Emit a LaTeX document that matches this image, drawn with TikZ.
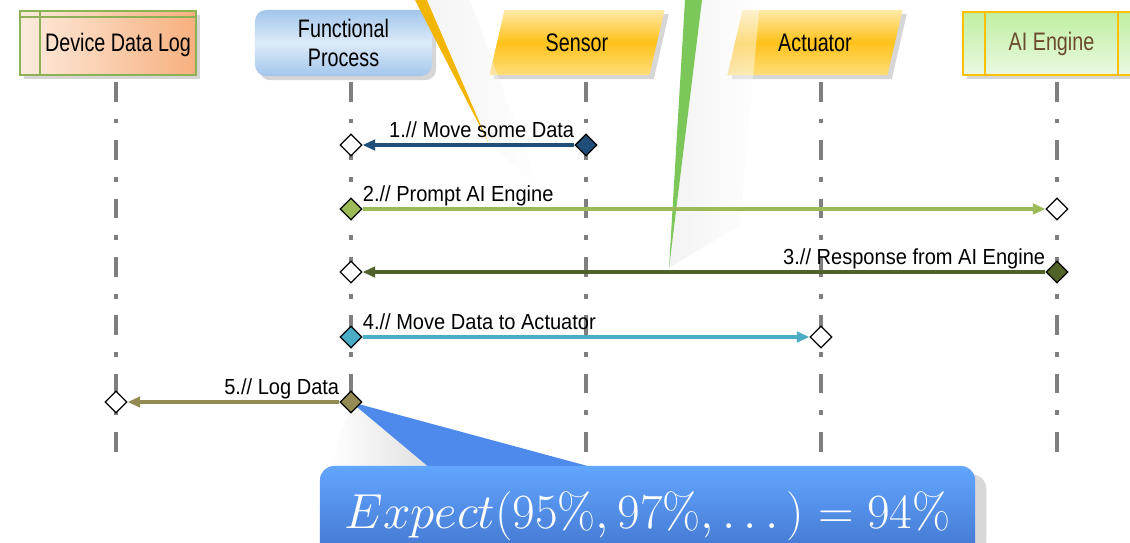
\RequirePackage{fix-cm}
\documentclass[tikz,border=0pt]{standalone}
\usepackage[no-math]{fontspec}
\setmainfont{Liberation Sans}
\newfontfamily\headfont{Liberation Sans}[FakeStretch=0.78]
\newfontfamily\msgfont{Liberation Sans}[FakeStretch=0.92]
\usepackage{tikz}
\usetikzlibrary{calc}
\usetikzlibrary{arrows.meta,shapes.geometric,shadows,positioning}

\definecolor{logLight}{HTML}{FDEBDD}
\definecolor{logDark}{HTML}{F7B07E}
\definecolor{logLine}{HTML}{8DB255}
\definecolor{procEdge}{HTML}{A3C6EB}
\definecolor{procMid}{HTML}{DCEBF9}
\definecolor{devTop}{HTML}{FFE9A6}
\definecolor{devMid}{HTML}{FFC21A}
\definecolor{devBot}{HTML}{FFDD7A}
\definecolor{aiTop}{HTML}{BFEFA0}
\definecolor{aiBot}{HTML}{EBF9E2}
\definecolor{aiLine}{HTML}{FFC000}
\definecolor{aiText}{HTML}{6B4A2E}
\definecolor{lifeGray}{HTML}{7F7F7F}
\definecolor{msgA}{HTML}{1F4E79}
\definecolor{msgB}{HTML}{9BBB59}
\definecolor{msgC}{HTML}{4F6228}
\definecolor{msgD}{HTML}{4BACC6}
\definecolor{msgE}{HTML}{948A54}
\definecolor{callTop}{HTML}{62A6FF}
\definecolor{callBot}{HTML}{3F70C9}
\definecolor{callMid}{HTML}{4D8AEC}
\definecolor{ptrYellow}{HTML}{F2B600}
\definecolor{ptrGreen}{HTML}{7CC75A}

\begin{document}
\begin{tikzpicture}[x=0.025cm, y=-0.025cm,
			header/.style  = {font=\headfont\fontsize{18}{21}\selectfont, inner sep=0pt, align=center},
			hshadow/.style = {drop shadow={opacity=0.4, fill=gray!80, shadow xshift=3pt, shadow yshift=-3pt}},
			logbox/.style  = {header, rectangle, hshadow, draw=logLine, line width=1.2pt, left color=logLight, right color=logDark, minimum width=4.4cm, minimum height=1.6cm},
			procbox/.style = {header, rectangle, hshadow, rounded corners=8pt, top color=procEdge, bottom color=procEdge, middle color=procMid, minimum width=4.425cm, minimum height=1.65cm},
			devshape/.style = {hshadow, top color=devTop, bottom color=devBot, middle color=devMid},
			aibox/.style   = {header, rectangle, hshadow, draw=aiLine, line width=1.2pt, top color=aiTop, bottom color=aiBot, minimum width=4.425cm, minimum height=1.575cm},
			lifeline/.style = {draw=lifeGray, line width=2.8pt, dash pattern=on 14pt off 12pt on 3.5pt off 12pt},
			dia/.style     = {diamond, draw=black, line width=0.8pt, minimum width=0.55cm, minimum height=0.55cm, inner sep=0pt},
			msg/.style     = {line width=2.4pt, -{Triangle[length=9pt,width=7.5pt]}},
			msglabel/.style = {font=\msgfont\fontsize{15.5}{18}\selectfont, inner sep=0pt},
			callbody/.style = {rectangle, rounded corners=10pt, top color=callTop, bottom color=callBot, minimum width=16.375cm, minimum height=2.5cm, text=white, font=\fontsize{35}{42}\selectfont, drop shadow={opacity=0.3, fill=gray, shadow xshift=8pt, shadow yshift=-6pt}}]

			\path[fill=white, use as bounding box] (0,0) rectangle (1130,542);
			\clip (0,0) rectangle (1130,542);

			% the heads of the lifelines
			\node[logbox] (log) at (108,43) {};
			\draw[logLine, line width=1.2pt] ($(log.north west)+(0,7)$) -- ($(log.north east)+(0,7)$);
			\draw[logLine, line width=1.2pt] ($(log.north west)+(21,0)$) -- ($(log.south west)+(21,0)$);
			\node[header] (logtxt) at ($(log.center)+(10,2)$) {Device Data Log};

			\node[procbox] (proc) at (343.5,43) {Functional\\Process};

			\foreach \n/\x/\txt in {sens/577/Sensor, act/815/Actuator} {
				\path[devshape] ({\x-87.5},75) -- ({\x-72.5},10) -- ({\x+87.5},10) -- ({\x+72.5},75) -- cycle;
				\node[header] (\n) at (\x,43) {\txt};
			}

			\node[aibox, text=aiText] (ai) at (1051.5,43.5) {AI Engine};
			\draw[aiLine, line width=1.2pt] ($(ai.north west)+(23,0)$) -- ($(ai.south west)+(23,0)$);
			\draw[aiLine, line width=1.2pt] ($(ai.north east)+(-23,0)$) -- ($(ai.south east)+(-23,0)$);

			% dashed lifelines below every head
			\foreach \n/\x in {log/116, proc/351, sens/586, act/821, ai/1057} {
				\coordinate (\n-top) at (\x,82);
				\coordinate (\n-bot) at (\x,462);
				\draw[lifeline] (\n-top) -- (\n-bot);
			}

			% pointers of the callouts that sit above the picture
			\shade[left color=gray!20, right color=white, opacity=0.4] (428,0) -- (470,0) -- (540,190) -- (488,142) -- cycle;
			\fill[ptrYellow] (415,0) -- (427,0) -- (488,142) -- cycle;
			\shade[left color=gray!20, right color=white, opacity=0.45] (702,0) -- (760,0) -- (740,225) -- (669,268) -- cycle;
			\fill[ptrGreen] (685,0) -- (702,0) -- (669,268) -- cycle;

			% the result callout, pointing at the log message
			\coordinate (t5) at (proc-top |- 0,402);
			\shade[left color=white, right color=gray!25] (t5) -- (330,468) -- (432,468) -- cycle;
			\fill[callMid] (t5) -- (430,468) -- (595,468) -- cycle;
			\node[callbody] (expect) at (647.5,516) {$Expect(95\%, 97\%, \ldots\,) = 94\%$};

			% messages between the lifelines
			\foreach \i/\y/\s/\t/\c/\la/\sa/\txt in {
					1/145/sens/proc/msgA/east/west/{1.// Move some Data},
					2/209/proc/ai/msgB/west/east/{2.// Prompt AI Engine},
					3/272/ai/proc/msgC/east/west/{3.// Response from AI Engine},
					4/337/proc/act/msgD/west/east/{4.// Move Data to Actuator},
					5/402/proc/log/msgE/east/west/{5.// Log Data}} {
				\coordinate (row\i) at (0,\y);
				\node[dia, fill=\c] (s\i) at (\s-top |- row\i) {};
				\node[dia, fill=white] (t\i) at (\t-top |- row\i) {};
				\draw[msg, draw=\c, fill=\c] (s\i) -- (t\i);
				\node[msglabel, anchor=base \la] (l\i) at ($(s\i.\sa)+(0,-8)$) {\txt};
			}
		\end{tikzpicture}
\end{document}
